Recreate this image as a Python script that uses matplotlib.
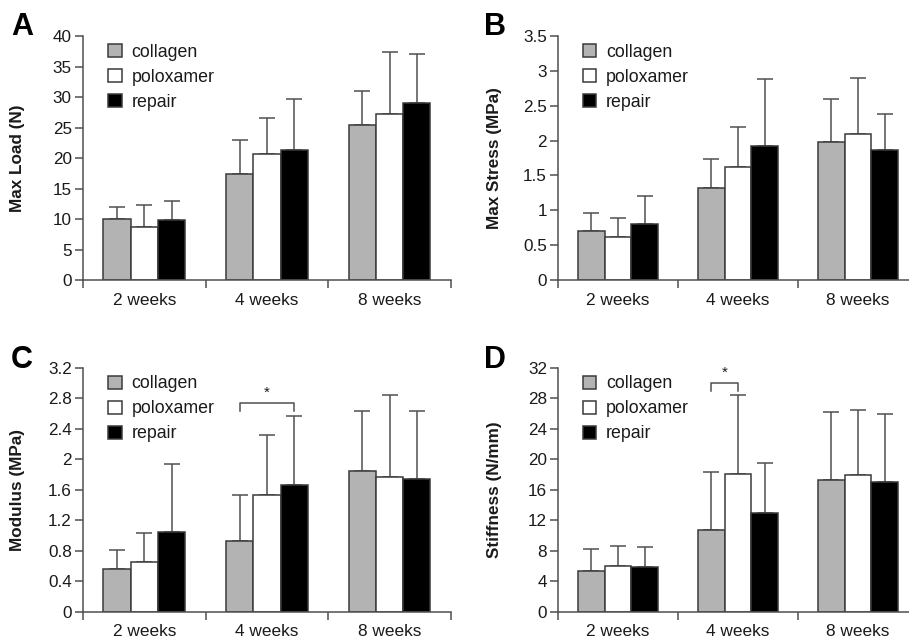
import matplotlib.pyplot as plt
from matplotlib.patches import Patch
import numpy as np

plt.rcParams['font.family'] = ['Liberation Sans', 'DejaVu Sans']

weeks = ['2 weeks', '4 weeks', '8 weeks']
groups = ['collagen', 'poloxamer', 'repair']

# Max Load (N)
load_mean = {'collagen': [10.0, 17.4, 25.4], 'poloxamer': [8.7, 20.6, 27.2], 'repair': [9.8, 21.3, 29.1]}
load_sd = {'collagen': [1.9, 5.6, 5.6], 'poloxamer': [3.6, 6.0, 10.2], 'repair': [3.2, 8.4, 8.0]}

# Max Stress (MPa)
stress_mean = {'collagen': [0.71, 1.32, 1.98], 'poloxamer': [0.62, 1.62, 2.09], 'repair': [0.80, 1.92, 1.86]}
stress_sd = {'collagen': [0.25, 0.42, 0.62], 'poloxamer': [0.27, 0.57, 0.81], 'repair': [0.41, 0.96, 0.52]}

# Modulus (MPa)
modulus_mean = {'collagen': [0.56, 0.93, 1.85], 'poloxamer': [0.66, 1.54, 1.77], 'repair': [1.05, 1.67, 1.74]}
modulus_sd = {'collagen': [0.25, 0.60, 0.78], 'poloxamer': [0.37, 0.78, 1.07], 'repair': [0.89, 0.90, 0.89]}

# Stiffness (N/mm)
stiff_mean = {'collagen': [5.4, 10.8, 17.3], 'poloxamer': [6.0, 18.1, 17.9], 'repair': [5.9, 13.0, 17.1]}
stiff_sd = {'collagen': [2.9, 7.6, 8.9], 'poloxamer': [2.6, 10.3, 8.6], 'repair': [2.6, 6.5, 8.9]}

colors = {'collagen': '#b3b3b3', 'poloxamer': '#ffffff', 'repair': '#000000'}
edge = '#3a3a3a'
txt = '#1a1a1a'
bw = 0.222


def draw_panel(ax, means, sds, ylabel, ymax, ystep, fmt):
    x = np.arange(len(weeks))
    for i, g in enumerate(groups):
        pos = x + (i - 1) * bw
        ax.bar(pos, means[g], bw, color=colors[g], edgecolor=edge, linewidth=1.1, zorder=2)
        ax.errorbar(pos, means[g], yerr=[np.zeros(3), sds[g]], fmt='none',
                    ecolor='#505050', elinewidth=1.1, capsize=6, capthick=1.1, zorder=1)
    ax.set_xlim(-0.5, 2.5)
    ax.set_ylim(0, ymax)
    ticks = np.arange(0, ymax + ystep / 2, ystep)
    ax.set_yticks(ticks)
    ax.set_yticklabels([fmt(v) for v in ticks])
    ax.set_xticks(x)
    ax.set_xticklabels(weeks)
    ax.set_xticks([-0.5, 0.5, 1.5, 2.5], minor=True)
    ax.tick_params(axis='x', which='major', length=0, pad=9, labelsize=12.4, labelcolor=txt)
    ax.tick_params(axis='x', which='minor', length=6, width=1.1, color='#505050')
    ax.tick_params(axis='y', length=6, width=1.1, color='#505050', labelsize=12.3, labelcolor=txt, pad=2)
    for s in ['top', 'right']:
        ax.spines[s].set_visible(False)
    for s in ['left', 'bottom']:
        ax.spines[s].set_color('#505050')
        ax.spines[s].set_linewidth(1.1)
    ax.set_ylabel(ylabel, fontsize=12.3, fontweight='bold', color=txt)
    ax.yaxis.set_label_coords(-0.157, 0.5)
    handles = [Patch(facecolor=colors[g], edgecolor=edge, linewidth=1.1, label=g) for g in groups]
    ax.legend(handles=handles, loc='upper left', bbox_to_anchor=(0.025, 1.035), frameon=False,
              fontsize=12.8, handlelength=0.75, handleheight=0.75, handletextpad=0.55,
              labelspacing=0.45, labelcolor=txt)


fig = plt.figure(figsize=(9.09, 6.39), dpi=100)
axA = fig.add_axes([0.0913, 0.5618, 0.4048, 0.3818])
axB = fig.add_axes([0.6139, 0.5618, 0.396, 0.3818])
axC = fig.add_axes([0.0913, 0.0423, 0.4048, 0.3818])
axD = fig.add_axes([0.6139, 0.0423, 0.396, 0.3818])

draw_panel(axA, load_mean, load_sd, 'Max Load (N)', 40, 5, lambda v: f'{v:g}')
draw_panel(axB, stress_mean, stress_sd, 'Max Stress (MPa)', 3.5, 0.5, lambda v: f'{v:g}')
draw_panel(axC, modulus_mean, modulus_sd, 'Modulus (MPa)', 3.2, 0.4, lambda v: f'{round(v, 1):g}')
draw_panel(axD, stiff_mean, stiff_sd, 'Stiffness (N/mm)', 32, 4, lambda v: f'{v:g}')

# significance brackets
axC.plot([1 - bw, 1 - bw, 1 + bw, 1 + bw], [2.64, 2.74, 2.74, 2.64], color='#505050', lw=1.1)
axC.text(1, 2.78, '*', ha='center', va='bottom', fontsize=11, color=txt)
axD.plot([1 - bw, 1 - bw, 1, 1], [29.0, 30.0, 30.0, 29.0], color='#505050', lw=1.1)
axD.text(1 - bw / 2, 30.4, '*', ha='center', va='bottom', fontsize=11, color=txt)

for lab, xx, yy in [('A', 11, 12), ('B', 484, 12), ('C', 11, 345), ('D', 484, 345)]:
    fig.text(xx / 909, 1 - yy / 639, lab, ha='left', va='top', fontsize=22, fontweight='bold', color='#000000')

fig.savefig('out.png', dpi=100)
